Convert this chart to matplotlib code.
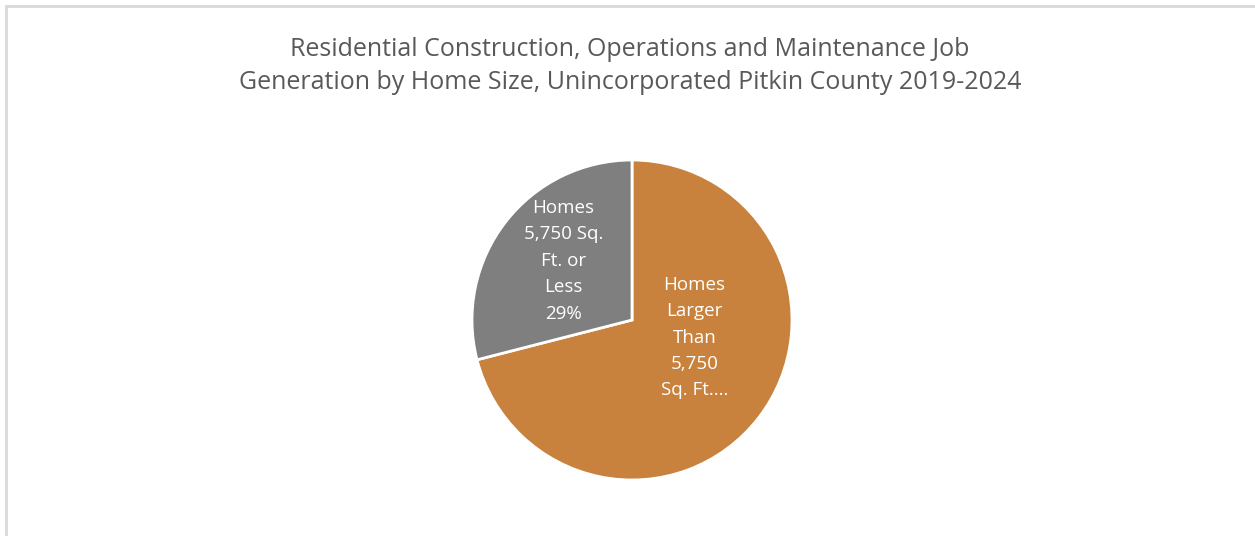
import matplotlib
matplotlib.use("Agg")
import matplotlib.pyplot as plt
from matplotlib.patches import Rectangle

# data
categories = ['Homes Larger Than 5,750 Sq. Ft.', 'Homes 5,750 Sq. Ft. or Less']
shares = [71, 29]
slice_labels = ['Homes\nLarger\nThan\n5,750\nSq. Ft....', 'Homes\n5,750 Sq.\nFt. or\nLess\n29%']
colors = ['#C8823E', '#7F7F7F']
title = ('Residential Construction, Operations and Maintenance Job\n'
         'Generation by Home Size, Unincorporated Pitkin County 2019-2024')

plt.rcParams['font.family'] = ['Open Sans', 'DejaVu Sans']

W, H = 1255, 536
fig = plt.figure(figsize=(W / 100, H / 100), dpi=100)
fig.patch.set_facecolor('white')

# chart area border (light gray, cut off right/bottom)
fig.patches.append(Rectangle((6 / W, -0.1), 1.2, (H - 6) / H + 0.1, transform=fig.transFigure,
                             fill=False, edgecolor='#D9D9D9', linewidth=2))

fig.text(630 / W, 1 - 66 / H, title, ha='center', va='center', fontsize=18,
         color='#595959', linespacing=1.38)

# pie axes: center (632, 320), radius 160 px
cx, cy, r = 632, 320, 160
ax = fig.add_axes([(cx - r) / W, (H - cy - r) / H, 2 * r / W, 2 * r / H])
wedges, texts = ax.pie(shares, colors=colors, startangle=90, counterclock=False,
                       labels=slice_labels, labeldistance=0.6,
                       wedgeprops=dict(edgecolor='white', linewidth=2),
                       textprops=dict(color='white', fontsize=13.5, ha='center', va='center',
                                      linespacing=1.6))
ax.set_xlim(-1, 1)
ax.set_ylim(-1, 1)

# Excel best-fit label placement
texts[0].set_position((0.39, -0.11))
texts[1].set_position((-0.43, 0.37))
for t in texts:
    t.set_ha('center')
    t.set_va('center')

fig.savefig('out.png', dpi=100)
